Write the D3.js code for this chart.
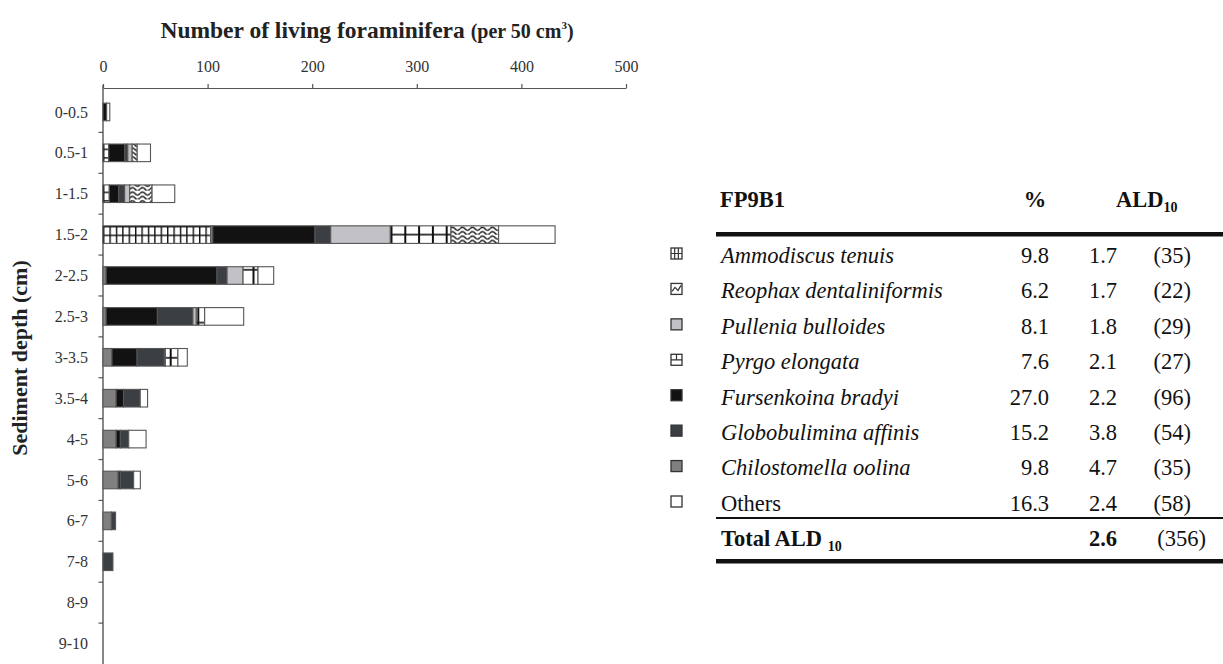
<!DOCTYPE html>
<html><head><meta charset="utf-8">
<script src="https://cdn.jsdelivr.net/npm/d3@7"></script>
<style>
body{margin:0;background:#fff;}
svg{display:block;font-family:"Liberation Serif","Times New Roman",serif;}
</style></head><body>
<svg id="c" width="1223" height="664"></svg>
<script>
const categories = ["0-0.5","0.5-1","1-1.5","1.5-2","2-2.5","2.5-3","3-3.5","3.5-4","4-5","5-6","6-7","7-8","8-9","9-10"];
const ammodiscus    = [0, 5.5, 6, 103, 0, 0, 0, 0, 0, 0, 0, 0, 0, 0];
const chilostomella = [0, 0, 0, 2, 3, 3, 8.6, 12.6, 12.6, 14.5, 8, 0, 0, 0];
const fursenkoina   = [3.5, 15.3, 9, 97.7, 106, 49, 24, 7, 4, 2, 0, 0, 0, 0];
const globobulimina = [0, 2.9, 5.7, 15, 9.6, 34, 26, 16, 8, 12.8, 4, 9.5, 0, 0];
const pullenia      = [0, 4.2, 4.8, 57, 15.3, 3.2, 1, 0, 0, 0, 0, 0, 0, 0];
const pyrgo         = [0, 0, 0, 58, 14.3, 8, 12, 0, 0, 0, 0, 0, 0, 0];
const reophax       = [0, 4.8, 21.4, 45.5, 0, 0, 0, 0, 0, 0, 0, 0, 0, 0];
const others        = [3, 12.7, 21.7, 54, 15, 37.3, 9, 7, 16.6, 6.4, 0, 0, 0, 0];
const xTicks = [0, 100, 200, 300, 400, 500];

// table
const tableSpecies = ["Ammodiscus tenuis","Reophax dentaliniformis","Pullenia bulloides","Pyrgo elongata","Fursenkoina bradyi","Globobulimina affinis","Chilostomella oolina","Others"];
const tableKeys = ["ammodiscus","reophax","pullenia","pyrgo","fursenkoina","globobulimina","chilostomella","others"];
const tablePct = ["9.8","6.2","8.1","7.6","27.0","15.2","9.8","16.3"];
const tableALD = ["1.7","1.7","1.8","2.1","2.2","3.8","4.7","2.4"];
const tableN = ["(35)","(22)","(29)","(27)","(96)","(54)","(35)","(58)"];
const totalALD = "2.6", totalN = "(356)";

const keys = ["ammodiscus","chilostomella","fursenkoina","globobulimina","pullenia","pyrgo","reophax","others"];
const seriesData = {ammodiscus, chilostomella, fursenkoina, globobulimina, pullenia, pyrgo, reophax, others};
const rows = categories.map((c,i)=>{const o={cat:c}; keys.forEach(k=>o[k]=seriesData[k][i]); return o;});

const svg = d3.select("#c");
const defs = svg.append("defs");

// patterns
const pA = defs.append("pattern").attr("id","pat-ammodiscus").attr("patternUnits","userSpaceOnUse")
  .attr("width",6.4).attr("height",8.6).attr("x",103).attr("y",226);
pA.append("rect").attr("width",6.4).attr("height",8.6).attr("fill","#fff");
pA.append("rect").attr("x",0).attr("y",0).attr("width",1.4).attr("height",8.6).attr("fill","#111");
pA.append("rect").attr("x",0).attr("y",0).attr("width",6.4).attr("height",1.4).attr("fill","#111");

const pP = defs.append("pattern").attr("id","pat-pyrgo").attr("patternUnits","userSpaceOnUse")
  .attr("width",13.8).attr("height",17.6).attr("x",390.5).attr("y",225.8);
pP.append("rect").attr("width",13.8).attr("height",17.6).attr("fill","#fff");
pP.append("rect").attr("x",0).attr("y",0).attr("width",2).attr("height",17.6).attr("fill","#111");
pP.append("rect").attr("x",0).attr("y",8).attr("width",13.8).attr("height",1.6).attr("fill","#111");

const pR = defs.append("pattern").attr("id","pat-reophax").attr("patternUnits","userSpaceOnUse")
  .attr("width",10).attr("height",8.8).attr("x",0).attr("y",225.8);
pR.append("rect").attr("width",10).attr("height",8.8).attr("fill","#fff");
pR.append("path").attr("d","M0,3 Q2.5,0 5,3 T10,3 M0,7.4 Q2.5,4.4 5,7.4 T10,7.4")
  .attr("fill","none").attr("stroke","#111").attr("stroke-width",1.4);

const fills = {
  ammodiscus:"url(#pat-ammodiscus)",
  chilostomella:"#808080",
  fursenkoina:"#121212",
  globobulimina:"#3b3f43",
  pullenia:"#c2c2c6",
  pyrgo:"url(#pat-pyrgo)",
  reophax:"url(#pat-reophax)",
  others:"#ffffff"
};

const x = d3.scaleLinear().domain([0,500]).range([103,626]);
const y = d3.scaleBand().domain(categories).range([91.5,664]).paddingInner(0.57).paddingOuter(0.285);

// title
const title = svg.append("text").attr("x",367).attr("y",38).attr("text-anchor","middle")
  .attr("font-weight","bold").attr("fill","#222");
title.append("tspan").attr("font-size",23.5).text("Number of living foraminifera ");
title.append("tspan").attr("font-size",20).text("(per 50 cm");
title.append("tspan").attr("font-size",11).attr("dy",-9).text("3");
title.append("tspan").attr("font-size",20).attr("dy",9).text(")");

// top axis
const xAxis = d3.axisTop(x).tickValues(xTicks).tickSize(4).tickSizeOuter(0).tickPadding(12);
const gx = svg.append("g").attr("transform","translate(0,88)").call(xAxis);
gx.select(".domain").attr("stroke","#555").attr("stroke-width",1.2);
gx.selectAll(".tick line").attr("stroke","#555").attr("stroke-width",1.2);
gx.selectAll(".tick text").attr("font-family","Liberation Serif, serif").attr("font-size",16).attr("fill","#333");

// y axis: line and boundary ticks
svg.append("line").attr("x1",103).attr("x2",103).attr("y1",85).attr("y2",664).attr("stroke","#555").attr("stroke-width",1.4);
const step = y.step();
svg.append("g").selectAll("line").data(categories.slice(1)).join("line")
  .attr("x1",98.5).attr("x2",103).attr("y1",d=>y(d)-(step-y.bandwidth())/2).attr("y2",d=>y(d)-(step-y.bandwidth())/2)
  .attr("stroke","#555").attr("stroke-width",1.2);
svg.append("g").selectAll("text").data(categories).join("text")
  .attr("x",88).attr("y",d=>y(d)+y.bandwidth()/2).attr("dy","0.35em").attr("text-anchor","end")
  .attr("font-size",16).attr("fill","#333").text(d=>d);

svg.append("text").attr("transform","translate(27,358) rotate(-90)").attr("text-anchor","middle")
  .attr("font-weight","bold").attr("font-size",22).attr("fill","#222").text("Sediment depth (cm)");

// bars
const stack = d3.stack().keys(keys)(rows);
svg.append("g").selectAll("g").data(stack).join("g")
  .attr("fill",d=>fills[d.key])
  .selectAll("rect").data(d=>d.filter(s=>s[1]-s[0]>0)).join("rect")
  .attr("x",d=>x(d[0])).attr("width",d=>x(d[1])-x(d[0]))
  .attr("y",d=>y(d.data.cat)).attr("height",y.bandwidth())
  .attr("stroke","#555").attr("stroke-width",1.1);

// table
const FS = 22.5;
const T = svg.append("g").attr("fill","#111");
T.append("text").attr("x",720).attr("y",207).attr("font-weight","bold").attr("font-size",FS).text("FP9B1");
T.append("text").attr("x",1035).attr("y",207).attr("text-anchor","middle").attr("font-weight","bold").attr("font-size",FS).text("%");
const ald = T.append("text").attr("x",1116).attr("y",207).attr("font-weight","bold").attr("font-size",FS);
ald.append("tspan").text("ALD");
ald.append("tspan").attr("font-size",14).attr("dy",5).text("10");
T.append("rect").attr("x",716).attr("y",232).attr("width",507).attr("height",4.5).attr("fill","#111");

const rowY = d3.scalePoint().domain(tableSpecies).range([255,503]);
const tr = T.selectAll("g.row").data(tableSpecies).join("g").attr("class","row")
  .attr("transform",d=>`translate(0,${rowY(d)})`);
tr.append("text").attr("x",721).attr("dy","0.35em").attr("font-size",FS)
  .attr("font-style",(d,i)=>i<7?"italic":"normal").text(d=>d);
tr.append("text").attr("x",1049).attr("dy","0.35em").attr("text-anchor","end").attr("font-size",FS).text((d,i)=>tablePct[i]);
tr.append("text").attr("x",1117).attr("dy","0.35em").attr("text-anchor","end").attr("font-size",FS).text((d,i)=>tableALD[i]);
tr.append("text").attr("x",1191).attr("dy","0.35em").attr("text-anchor","end").attr("font-size",FS).text((d,i)=>tableN[i]);

// legend icons
tr.each(function(d,i){
  const g = d3.select(this), k = tableKeys[i];
  const s = 11, x0 = 671, y0 = -7;
  const solid = {pullenia:"#c2c2c6",fursenkoina:"#121212",globobulimina:"#3b3f43",chilostomella:"#808080",others:"#fff"};
  g.append("rect").attr("x",x0).attr("y",y0).attr("width",s).attr("height",s)
    .attr("fill",solid[k]||"#fff").attr("stroke","#333").attr("stroke-width",1.3);
  if(k==="ammodiscus"){
    g.append("path").attr("d",`M${x0},${y0+s/2}H${x0+s}M${x0+s/3},${y0}V${y0+s}M${x0+2*s/3},${y0}V${y0+s}`)
      .attr("stroke","#333").attr("stroke-width",1.2).attr("fill","none");
  } else if(k==="pyrgo"){
    g.append("path").attr("d",`M${x0},${y0+s/2}H${x0+s}M${x0+s/2},${y0}V${y0+s/2}`)
      .attr("stroke","#333").attr("stroke-width",1.2).attr("fill","none");
  } else if(k==="reophax"){
    g.append("path").attr("d",`M${x0+1},${y0+s-3}L${x0+4},${y0+4}L${x0+7},${y0+7}L${x0+s-1},${y0+2}`)
      .attr("stroke","#333").attr("stroke-width",1.2).attr("fill","none");
  }
});

T.append("rect").attr("x",716).attr("y",517).attr("width",507).attr("height",2).attr("fill","#111");
const tot = T.append("text").attr("x",721).attr("y",546).attr("font-weight","bold").attr("font-size",FS);
tot.append("tspan").text("Total ALD ");
tot.append("tspan").attr("font-size",14).attr("dy",5).text("10");
T.append("text").attr("x",1117).attr("y",546).attr("text-anchor","end").attr("font-weight","bold").attr("font-size",FS).text(totalALD);
T.append("text").attr("x",1206).attr("y",546).attr("text-anchor","end").attr("font-size",FS).text(totalN);
T.append("rect").attr("x",716).attr("y",559).attr("width",507).attr("height",4.5).attr("fill","#111");
</script>
</body></html>
